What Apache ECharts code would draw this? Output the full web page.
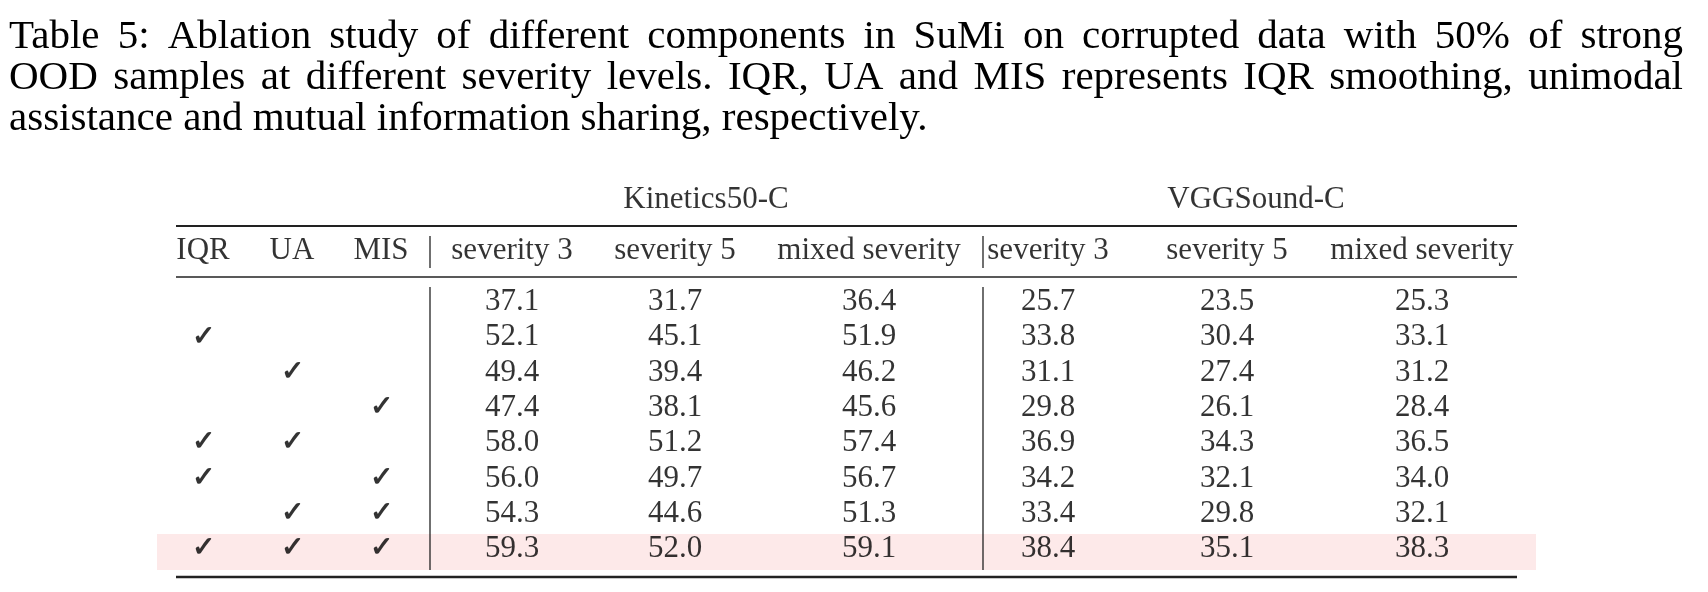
<!DOCTYPE html>
<html>
<head>
<meta charset="utf-8">
<script src="https://cdn.jsdelivr.net/npm/echarts@6/dist/echarts.min.js"></script>
<style>html,body{margin:0;padding:0;background:#fff}#chart{width:1708px;height:592px}</style>
</head>
<body>
<div id="chart"></div>
<script>
// caption lines
var captionLines = [
    "Table 5: Ablation study of different components in SuMi on corrupted data with 50% of strong",
    "OOD samples at different severity levels. IQR, UA and MIS represents IQR smoothing, unimodal",
    "assistance and mutual information sharing, respectively."
];
var groups = ["Kinetics50-C", "VGGSound-C"];
var headers = ["IQR", "UA", "MIS", "severity 3", "severity 5", "mixed severity", "severity 3", "severity 5", "mixed severity"];
// ablation flags (IQR, UA, MIS)
var flags = [
    [0,0,0],[1,0,0],[0,1,0],[0,0,1],[1,1,0],[1,0,1],[0,1,1],[1,1,1]
];
var kinetics = [
    ["37.1","31.7","36.4"],["52.1","45.1","51.9"],["49.4","39.4","46.2"],["47.4","38.1","45.6"],
    ["58.0","51.2","57.4"],["56.0","49.7","56.7"],["54.3","44.6","51.3"],["59.3","52.0","59.1"]
];
var vggsound = [
    ["25.7","23.5","25.3"],["33.8","30.4","33.1"],["31.1","27.4","31.2"],["29.8","26.1","28.4"],
    ["36.9","34.3","36.5"],["34.2","32.1","34.0"],["33.4","29.8","32.1"],["38.4","35.1","38.3"]
];

// layout (pixel coordinates on the value axes)
var colX = [203, 292, 381, 512, 675, 869, 1048, 1227, 1422];
var groupX = [706, 1256];
var rowY0 = 302, rowStep = 35.3, headY = 251, groupY = 200;
var FONT = "Liberation Serif";

var cells = [];
flags.forEach(function (f, r) {
    var y = rowY0 + r * rowStep;
    f.forEach(function (v, c) { if (v) cells.push({value: [colX[c], y], label: "✓", check: true}); });
    kinetics[r].forEach(function (v, c) { cells.push({value: [colX[3 + c], y], label: v}); });
    vggsound[r].forEach(function (v, c) { cells.push({value: [colX[6 + c], y], label: v}); });
});
headers.forEach(function (h, c) { cells.push({value: [colX[c], headY], label: h}); });
groups.forEach(function (g, i) { cells.push({value: [groupX[i], groupY], label: g}); });
cells.forEach(function (d) {
    if (d.check) d.label = {fontWeight: "bold", fontSize: 28, formatter: "✓"};
    else d.label = {formatter: d.label};
});

// justified caption words
var ctx = document.createElement("canvas").getContext("2d");
var capSize = 41;
ctx.font = capSize + "px '" + FONT + "'";
var graphics = [];
captionLines.forEach(function (line, i) {
    var words = line.split(" ");
    var y = 37 + i * 41;
    var left = 9, right = 1683;
    var widths = words.map(function (w) { return ctx.measureText(w).width; });
    var total = widths.reduce(function (a, b) { return a + b; }, 0);
    var gap = i < 2 ? (right - left - total) / (words.length - 1) : ctx.measureText(" ").width;
    var x = left;
    words.forEach(function (w, k) {
        graphics.push({type: "text", x: x, y: y, style: {text: w, font: capSize + "px '" + FONT + "'", fill: "#000", verticalAlign: "middle"}});
        x += widths[k] + gap;
    });
});
function hline(x1, x2, y, w) {
    return {type: "line", shape: {x1: x1, y1: y, x2: x2, y2: y}, style: {stroke: "#222", lineWidth: w}};
}
graphics.push({type: "rect", z: -1, shape: {x: 157, y: 534, width: 1379, height: 36}, style: {fill: "#fde9e9"}});
graphics.push(hline(176, 1517, 226, 2));
graphics.push(hline(176, 1517, 277, 1.5));
graphics.push(hline(176, 1517, 577, 2.5));
[430, 983].forEach(function (x) {
    graphics.push({type: "line", shape: {x1: x, y1: 236, x2: x, y2: 268}, style: {stroke: "#222", lineWidth: 1.3}});
    graphics.push({type: "line", shape: {x1: x, y1: 287, x2: x, y2: 570}, style: {stroke: "#222", lineWidth: 1.3}});
});

var chart = echarts.init(document.getElementById("chart"));
chart.setOption({
    animation: false,
    backgroundColor: "#fff",
    grid: {left: 0, right: 0, top: 0, bottom: 0},
    xAxis: {type: "value", min: 0, max: 1708, show: false},
    yAxis: {type: "value", min: 0, max: 592, inverse: true, show: false},
    graphic: graphics,
    series: [{
        type: "scatter",
        symbolSize: 0,
        data: cells,
        label: {
            show: true,
            position: "inside",
            fontFamily: FONT,
            fontSize: 31,
            color: "#000"
        }
    }]
});
</script>
</body>
</html>
